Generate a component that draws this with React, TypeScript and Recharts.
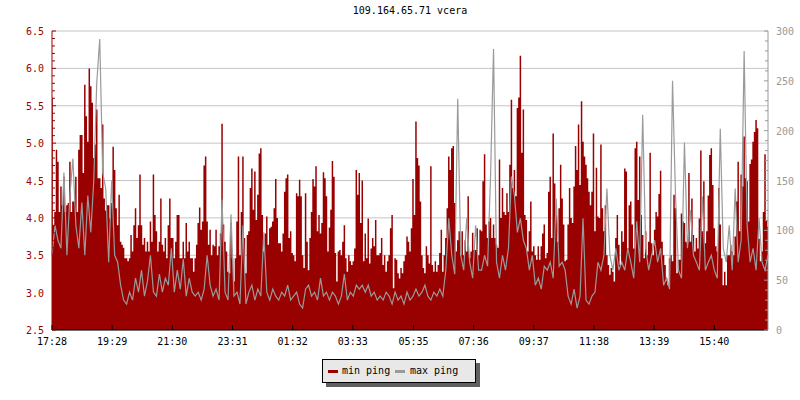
import { ComposedChart, Area, Line, XAxis, YAxis, CartesianGrid } from 'recharts';

// min ping (ms, left axis), one sample every 3 minutes from 17:28
const minPing = [
  5.6, 3.9, 4.08, 4.91, 4.75, 4.08, 4.42, 4.17, 4.55, 4.08,
  4.17, 4.2, 4.75, 4.08, 4.22, 4.22, 4.55, 4.08, 4.91, 5.11,
  5.11, 4.6, 5.78, 5.36, 5.02, 6.0, 5.76, 5.54, 4.8, 4.98,
  5.45, 4.53, 4.53, 4.4, 5.25, 4.26, 4.1, 4.17, 4.17, 3.99,
  4.2, 4.95, 4.64, 4.13, 3.9, 4.31, 3.68, 3.64, 3.6, 3.46,
  3.46, 3.42, 3.46, 3.77, 3.55, 3.9, 4.13, 3.73, 3.9, 4.58,
  3.9, 3.64, 3.73, 3.55, 3.68, 3.55, 3.95, 3.68, 4.58, 4.04,
  3.82, 3.55, 3.68, 4.26, 3.64, 3.55, 3.73, 3.46, 3.9, 4.26,
  3.73, 3.73, 3.46, 3.68, 4.04, 4.04, 3.46, 3.46, 3.68, 3.46,
  3.93, 3.55, 3.68, 3.46, 3.46, 3.28, 3.46, 3.64, 3.93, 4.14,
  3.84, 3.95, 4.7, 4.82, 3.95, 3.64, 3.84, 3.5, 3.64, 3.62,
  3.84, 3.5, 3.62, 3.79, 5.26, 3.91, 3.68, 3.55, 3.28, 3.26,
  3.93, 3.46, 3.15, 3.46, 3.95, 4.82, 3.5, 4.08, 4.82, 3.73,
  3.26, 3.77, 3.82, 4.4, 4.66, 4.11, 4.62, 3.97, 4.31, 4.86,
  4.93, 4.04, 3.55, 3.79, 4.02, 3.64, 3.86, 3.88, 3.95, 4.13,
  4.52, 4.0, 3.66, 3.66, 3.55, 3.79, 4.35, 4.53, 4.58, 3.73,
  3.82, 3.53, 3.5, 3.42, 4.33, 4.29, 4.51, 4.29, 3.5, 3.33,
  4.33, 3.68, 3.3, 3.73, 4.08, 4.52, 4.42, 4.69, 3.82, 4.04,
  3.79, 3.93, 4.61, 4.53, 4.29, 3.55, 3.87, 4.11, 4.76, 4.55,
  3.53, 3.15, 3.55, 3.57, 3.5, 3.68, 3.9, 3.46, 3.28, 3.5,
  3.42, 3.37, 3.42, 3.59, 4.64, 4.31, 4.6, 3.93, 4.5, 3.42,
  3.79, 3.46, 3.99, 3.39, 3.59, 3.73, 3.62, 3.97, 3.5, 3.5,
  3.53, 3.73, 3.37, 3.5, 3.28, 3.42, 3.5, 3.86, 4.04, 3.06,
  3.46, 3.44, 3.26, 3.19, 3.33, 3.26, 3.42, 3.5, 3.75, 3.68,
  3.55, 3.86, 4.52, 4.04, 5.29, 4.8, 4.7, 4.22, 3.5, 3.33,
  3.26, 3.62, 3.5, 3.39, 4.69, 3.37, 3.28, 3.42, 3.28, 3.37,
  3.53, 3.84, 3.28, 3.5, 3.73, 4.13, 4.82, 4.64, 4.93, 4.96,
  4.2, 3.55, 3.7, 3.82, 3.5, 3.82, 3.5, 3.7, 3.55, 4.29,
  3.46, 3.55, 3.8, 3.57, 3.57, 3.86, 3.5, 3.84, 3.82, 4.49,
  4.85, 3.91, 3.73, 3.95, 4.0, 3.73, 3.91, 3.73, 3.64, 3.6,
  4.78, 4.0, 4.4, 4.08, 4.04, 4.33, 4.08, 4.71, 5.58, 4.4,
  4.64, 4.29, 5.47, 5.61, 6.17, 4.87, 5.45, 4.04, 3.97, 3.55,
  3.82, 4.22, 3.55, 3.62, 3.5, 3.44, 3.62, 3.44, 3.62, 3.79,
  3.91, 3.46, 3.53, 4.35, 4.55, 3.73, 5.13, 4.46, 4.04, 3.68,
  4.13, 4.71, 4.26, 3.91, 3.42, 3.44, 3.91, 4.4, 4.0, 3.93,
  4.42, 4.96, 4.64, 5.25, 4.44, 5.56, 5.02, 4.82, 4.71, 4.53,
  4.35, 4.17, 4.35, 5.13, 3.82, 4.67, 4.02, 4.0, 4.98, 4.13,
  3.82, 4.17, 3.5, 3.37, 3.24, 3.33, 3.28, 3.15, 3.73, 4.04,
  3.64, 3.37, 3.82, 3.68, 4.66, 4.62, 3.59, 4.17, 4.22, 3.91,
  3.59, 4.93, 5.02, 4.24, 4.82, 4.04, 3.77, 3.46, 3.82, 3.5,
  3.68, 4.87, 3.66, 3.5, 3.84, 4.08, 4.02, 4.32, 4.63, 3.68,
  3.5, 3.37, 3.19, 3.1, 3.46, 3.5, 3.42, 4.31, 4.13, 3.26,
  3.44, 3.44, 4.06, 3.95, 3.93, 3.68, 3.66, 4.6, 3.68, 4.26,
  3.77, 3.55, 3.73, 3.59, 3.99, 4.9, 3.82, 4.49, 3.66, 3.82,
  4.3, 4.84, 4.93, 4.44, 3.86, 3.62, 3.55, 4.4, 3.91, 3.46,
  3.1, 3.28, 3.1, 3.5, 3.5, 3.64, 3.55, 3.5, 3.75, 4.22,
  4.75, 3.82, 4.58, 4.42, 5.09, 4.53, 4.49, 3.95, 4.72, 4.78,
  5.02, 5.15, 5.31, 5.2, 3.72, 3.42, 3.55, 4.08, 4.85, 3.97,
  3.88,
];

// max ping (ms, right axis), one sample every 6 minutes from 17:28
const maxPing = [
  75, 105, 90, 82, 158, 75, 135, 172, 105, 82,
  128, 75, 135, 98, 150, 248, 292, 158, 142, 68,
  150, 75, 68, 45, 30, 26, 38, 30, 52, 38,
  60, 34, 49, 75, 38, 34, 56, 38, 52, 45,
  82, 38, 60, 41, 71, 34, 52, 38,
  34, 38, 30, 41, 75, 45, 34, 41, 30, 131,
  38, 30, 116, 34, 38, 26, 105, 26, 38, 45,
  30, 41, 34, 98, 38, 30, 41, 34, 30, 38,
  34, 45, 30, 34, 38, 26, 22, 41, 45, 34,
  38, 30, 52, 34, 38, 30, 38, 34, 26,
  34, 56, 30, 38, 34, 45, 41, 45, 38, 45,
  34, 38, 30, 34, 30, 38, 34, 26, 38, 30,
  34, 26, 38, 30, 34, 41, 34, 38, 45, 34,
  30, 38, 34, 41, 34, 60, 112, 75, 56, 232,
  75, 60, 112, 68, 52, 105, 60,
  60, 75, 64, 154, 282, 68, 52, 75, 60, 82,
  154, 135, 98, 112, 90, 82, 60, 75, 45, 52,
  41, 64, 60, 68, 52, 132, 64, 68, 60, 34,
  26, 41, 22, 34, 112, 30, 26, 34, 38, 68,
  60, 75, 142, 75, 60, 82, 60, 68,
  60, 82, 68, 52, 109, 68, 216, 82, 60, 75,
  90, 68, 82, 45, 52, 41, 250, 135, 60, 52,
  188, 82, 120, 75, 68, 60, 134, 60, 68, 75,
  60, 52, 202, 82, 68, 105, 60, 142, 68, 90,
  280, 105, 68, 82, 60, 112, 68, 60, 75,
];

const timeTicks = [0, 121, 242, 363, 484, 605, 727, 848, 969, 1090, 1211, 1332];
const timeLabels = ['17:28', '19:29', '21:30', '23:31', '01:32', '03:33', '05:35', '07:36', '09:37', '11:38', '13:39', '15:40'];
const leftMajor = [2.5, 3.0, 3.5, 4.0, 4.5, 5.0, 5.5, 6.0, 6.5];
const rightMajor = [0, 50, 100, 150, 200, 250, 300];

const MIN_STEP = 3;
const data = minPing.map((v, j) => ({
  t: j * MIN_STEP,
  min: v,
  max: j % 2 === 0 ? maxPing[j / 2] : null,
}));

const leftTicks = Array.from({ length: 41 }, (_, i) => Math.round((2.5 + i * 0.1) * 10) / 10);
const rightTicks = Array.from({ length: 31 }, (_, i) => i * 10);

const RED = '#990000';
const GRAY = '#9a9a9a';
const FONT = '"DejaVu Sans Mono", monospace';

const LeftTick = (props: any) => {
  const { x, y, payload } = props;
  const major = leftMajor.some((m) => Math.abs(m - payload.value) < 1e-6);
  return (
    <g>
      <line x1={x} x2={x + (major ? 4 : 3)} y1={y} y2={y} stroke={RED} />
      {major && (
        <text x={x - 8} y={y + 4} textAnchor="end" fontSize={10} fontFamily={FONT} fill={RED}>
          {payload.value.toFixed(1)}
        </text>
      )}
    </g>
  );
};

const RightTick = (props: any) => {
  const { x, y, payload } = props;
  const major = rightMajor.includes(payload.value);
  return (
    <g>
      <line x1={x - (major ? 4 : 3)} x2={x} y1={y} y2={y} stroke={GRAY} />
      {major && (
        <text x={x + 8} y={y + 4} textAnchor="start" fontSize={10} fontFamily={FONT} fill={GRAY}>
          {payload.value}
        </text>
      )}
    </g>
  );
};

const TimeTick = (props: any) => {
  const { x, y, payload } = props;
  const label = timeLabels[timeTicks.indexOf(payload.value)];
  return (
    <g>
      <line x1={x} x2={x} y1={y - 5} y2={y} stroke="#000" />
      <text x={x} y={y + 15} textAnchor="middle" fontSize={10} fontFamily={FONT} fill="#000">
        {label}
      </text>
    </g>
  );
};

const App = () => {
  return (
    <div style={{ position: 'absolute', left: 0, top: 0, width: 800, height: 400, background: '#fff', fontFamily: FONT }}>
      <div style={{ position: 'absolute', left: 52, top: 5, width: 716, textAlign: 'center', fontSize: 10, color: '#000' }}>
        109.164.65.71 vcera
      </div>
      <ComposedChart width={800} height={400} data={data} margin={{ top: 31, right: 0, bottom: 0, left: 0 }}>
        <CartesianGrid vertical={false} stroke="#c4c4c4" horizontalValues={leftMajor} />
        <XAxis
          dataKey="t"
          type="number"
          domain={[0, 1440]}
          ticks={timeTicks}
          interval={0}
          height={70}
          tickSize={0}
          tickMargin={0}
          tick={TimeTick}
          axisLine={{ stroke: '#000' }}
          tickLine={false}
        />
        <YAxis
          yAxisId={0}
          type="number"
          domain={[2.5, 6.5]}
          ticks={leftTicks}
          interval={0}
          width={52}
          tickSize={0}
          tickMargin={0}
          tick={LeftTick}
          axisLine={{ stroke: RED }}
          tickLine={false}
          allowDataOverflow
        />
        <YAxis
          yAxisId="right"
          orientation="right"
          type="number"
          domain={[0, 300]}
          ticks={rightTicks}
          interval={0}
          width={32}
          tickSize={0}
          tickMargin={0}
          tick={RightTick}
          axisLine={{ stroke: GRAY }}
          tickLine={false}
          allowDataOverflow
        />
        <Area
          yAxisId={0}
          type="step"
          dataKey="min"
          fill={RED}
          fillOpacity={1}
          stroke="none"
          isAnimationActive={false}
        />
        <Line
          yAxisId="right"
          type="linear"
          dataKey="max"
          stroke={GRAY}
          strokeWidth={1.2}
          dot={false}
          connectNulls
          isAnimationActive={false}
        />
      </ComposedChart>
      <div
        style={{
          position: 'absolute',
          left: 322,
          top: 359,
          width: 152,
          height: 22,
          border: '1px solid #000',
          background: '#e8e8e8',
          boxShadow: '4px 4px 0 #606060',
          fontSize: 10,
          color: '#000',
        }}
      >
        <div style={{ position: 'absolute', left: 5, top: 10, width: 10, height: 3, background: RED }} />
        <div style={{ position: 'absolute', left: 19, top: 5, lineHeight: '12px' }}>min ping</div>
        <div style={{ position: 'absolute', left: 72, top: 10, width: 10, height: 3, background: GRAY }} />
        <div style={{ position: 'absolute', left: 87, top: 5, lineHeight: '12px' }}>max ping</div>
      </div>
    </div>
  );
};

export default App;
